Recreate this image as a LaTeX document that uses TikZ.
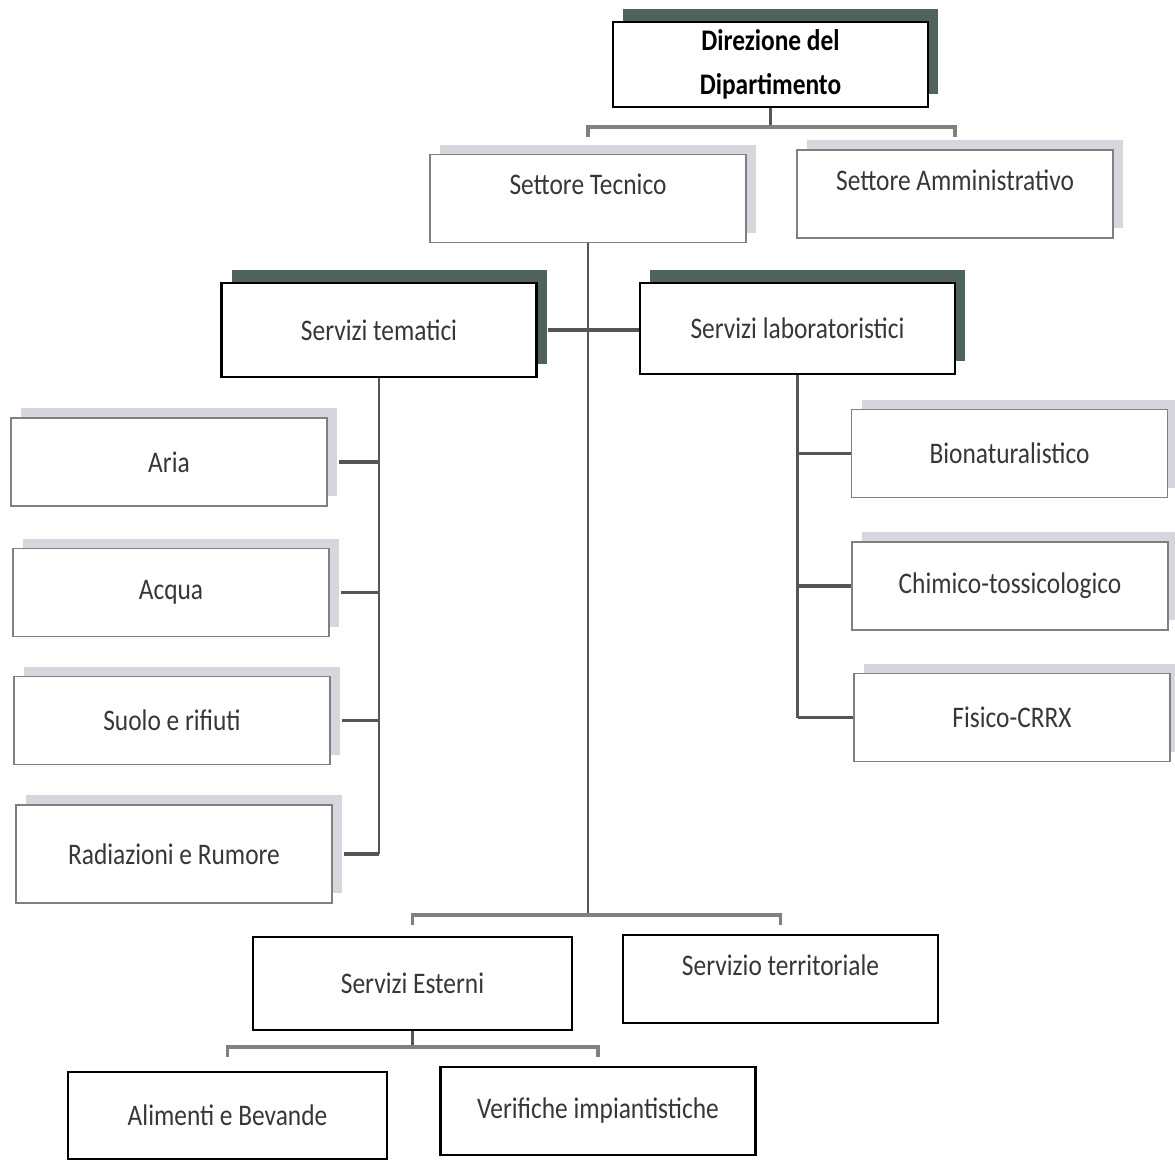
\documentclass[tikz,border=0pt]{standalone}
\usepackage{fontspec}
\setmainfont[FakeStretch=0.85]{Carlito}
\usepackage{xcolor}
\usetikzlibrary{shadows}
\definecolor{shadowdark}{RGB}{80,98,92}
\definecolor{shadowlight}{RGB}{214,214,220}
\definecolor{linegray}{RGB}{85,85,85}
\definecolor{textgray}{RGB}{55,55,55}

\begin{document}
\begin{tikzpicture}[every node/.style={font=\fontsize{17}{24}\selectfont, text=textgray},
   lightbox/.style={draw=gray, line width=0.8pt, fill=white, minimum width=6.32cm, minimum height=1.76cm,
      general shadow={fill=shadowlight, shadow xshift=0.2cm, shadow yshift=0.2cm}},
   darkbox/.style={draw=black, line width=1.6pt, fill=white, minimum width=6.3cm, minimum height=1.76cm},
   darkshadow/.style={general shadow={fill=shadowdark, shadow xshift=0.2cm, shadow yshift=0.26cm}},
   hightext/.style={text height=0.8cm, text depth=0.96cm, inner ysep=0pt},
   link/.style={draw=linegray, line width=1.3pt},
   stub/.style={draw=linegray, line width=2.2pt},
   bus/.style={draw=gray, line width=2pt}]
   \useasboundingbox (0,0) rectangle (23.5,-23.18);
   \node[darkbox, darkshadow, minimum height=1.7cm, align=center, text=black, font=\bfseries\fontsize{17}{25}\selectfont] (dir) at (15.41,-1.29) {Direzione del\\Dipartimento};
   \node[lightbox, hightext] (tec) at (11.76,-3.97) {Settore Tecnico};
   \node[lightbox, hightext] (amm) at (19.1,-3.88) {Settore Amministrativo};
   \node[darkbox, darkshadow, minimum height=1.88cm] (tem) at (7.58,-6.6) {Servizi tematici};
   \node[darkbox, darkshadow, minimum height=1.82cm] (lab) at (15.95,-6.57) {Servizi laboratoristici};
   \node[lightbox] (aria) at (3.38,-9.24) {Aria};
   \node[lightbox] (acqua) at (3.42,-11.85) {Acqua};
   \node[lightbox] (suolo) at (3.44,-14.41) {Suolo e rifiuti};
   \node[lightbox, minimum height=1.96cm] (rad) at (3.48,-17.08) {Radiazioni e Rumore};
   \node[lightbox] (bio) at (20.19,-9.07) {Bionaturalistico};
   \node[lightbox] (chim) at (20.2,-11.72) {Chimico-tossicologico};
   \node[lightbox] (fis) at (20.24,-14.35) {Fisico-CRRX};
   \node[darkbox, minimum width=6.38cm, minimum height=1.86cm] (est) at (8.25,-19.67) {Servizi Esterni};
   \node[darkbox, hightext] (terr) at (15.61,-19.58) {Servizio territoriale};
   \node[darkbox, minimum width=6.38cm, minimum height=1.74cm] (ali) at (4.55,-22.31) {Alimenti e Bevande};
   \node[darkbox] (ver) at (11.96,-22.22) {Verifiche impiantistiche};
   \coordinate (busA) at (0,-2.54);
   \coordinate (busB) at (0,-18.3);
   \coordinate (busC) at (0,-20.94);
   \draw[link] (dir.south) -- (dir.south |- busA);
   \draw[bus] (tec.north |- busA) ++(0,-0.2) -- ++(0,0.2) -- (amm.north |- busA) -- ++(0,-0.2);
   \draw[link] (tec.south) -- (tec.south |- busB);
   \draw[stub] ([xshift=0.2cm]tem.east) -- (tem.east -| lab.west);
   \draw[link] (tem.south) -- (tem.south |- rad.east);
   \draw[stub] ([xshift=0.22cm]aria.east) -- (aria.east -| tem.south);
   \draw[stub] ([xshift=0.22cm]acqua.east) -- (acqua.east -| tem.south);
   \draw[stub] ([xshift=0.22cm]suolo.east) -- (suolo.east -| tem.south);
   \draw[stub] ([xshift=0.22cm]rad.east) -- (rad.east -| tem.south);
   \draw[link] (lab.south) -- (lab.south |- fis.west);
   \draw[stub] (bio.west -| lab.south) -- (bio.west);
   \draw[stub] (chim.west -| lab.south) -- (chim.west);
   \draw[stub] (fis.west -| lab.south) -- (fis.west);
   \draw[bus] (est.north |- busB) ++(0,-0.2) -- ++(0,0.2) -- (terr.north |- busB) -- ++(0,-0.2);
   \draw[link] (est.south) -- (est.south |- busC);
   \draw[bus] (ali.north |- busC) ++(0,-0.2) -- ++(0,0.2) -- (ver.north |- busC) -- ++(0,-0.2);
\end{tikzpicture}
\end{document}
